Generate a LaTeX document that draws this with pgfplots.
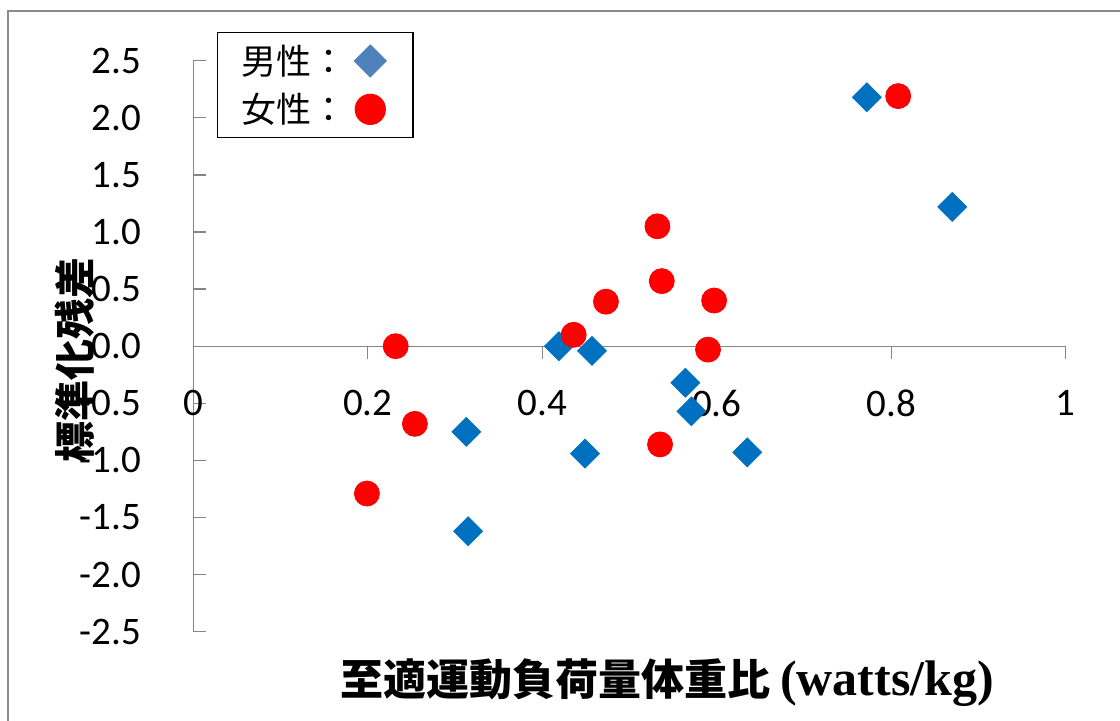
\documentclass[border=0pt]{standalone}
\usepackage{fontspec}
\setmainfont{Carlito}
\newfontfamily\jp{Noto Sans CJK JP}
\newfontfamily\lser{Liberation Serif}
\usepackage{pgfplots}
\pgfplotsset{compat=1.18}
\definecolor{male}{HTML}{0070C0}
\definecolor{malelegend}{HTML}{4F81BD}
\definecolor{axisgray}{HTML}{868686}
\definecolor{framegray}{HTML}{8C8C8C}

\begin{document}
\begin{tikzpicture}
\begin{scope}[x=0.5pt,y=0.5pt]
  \useasboundingbox (0,0) rectangle (1120,720);
  \draw[framegray, line width=1.3pt] (8,-10) -- (8,709) -- (1130,709);
\end{scope}
\begin{axis}[
  at={(96.65pt,44.15pt)}, anchor=south west,
  scale only axis, width=436.2pt, height=285.5pt,
  xmin=0, xmax=1, ymin=-2.5, ymax=2.5,
  axis lines=middle,
  axis line style={axisgray, line width=0.65pt, -},
  hide obscured x ticks=false, hide obscured y ticks=false,
  xtick={0,0.2,0.4,0.6,0.8,1},
  xticklabels={0,0.2,0.4,0.6,0.8,1},
  ytick={-2.5,-2,-1.5,-1,-0.5,0,0.5,1,1.5,2,2.5},
  yticklabel style={/pgf/number format/fixed, /pgf/number format/fixed zerofill,
    /pgf/number format/precision=1},
  tick align=inside,
  major tick length=6.5pt,
  major x tick style={axisgray, line width=0.65pt, yshift=-6.5pt},
  major y tick style={axisgray, line width=0.65pt},
  /pgf/number format/assume math mode=true,
  ticklabel style={font=\fontsize{19.5}{23}\selectfont, inner sep=0pt},
  xticklabel style={anchor=center, yshift=-28.5pt},
  yticklabel style={anchor=east, xshift=-26pt},
  legend plot pos=right,
  legend cell align=left,
  legend image code/.code={%
    \path (0cm,0cm) (0.6cm+2.5pt,0cm);
    \draw[mark repeat=2,mark phase=2,#1] plot coordinates {(0cm,0cm) (0.3cm,0cm) (0.6cm,0cm)};},
  legend style={at={(axis description cs:0.0272,1.050)}, anchor=north west,
    draw=black, line width=0.6pt, font=\jp\fontsize{17.5}{21}\selectfont,
    inner xsep=10pt, inner ysep=4pt, row sep=4pt, column sep=1pt},
  clip=false,
]
% 男性
\addplot[only marks, mark=square*, mark size=5.1pt, mark options={rotate=45}, color=male, forget plot]
coordinates {
  (0.772,2.18) (0.870,1.22) (0.419,0.00) (0.457,-0.04) (0.564,-0.32)
  (0.571,-0.57) (0.449,-0.94) (0.635,-0.93) (0.313,-0.75) (0.315,-1.62)
};
% 女性
\addplot[only marks, mark=*, mark size=6.25pt, color=red, forget plot]
coordinates {
  (0.808,2.19) (0.532,1.05) (0.537,0.57) (0.473,0.39) (0.597,0.40)
  (0.436,0.10) (0.590,-0.03) (0.232,0.00) (0.254,-0.68) (0.535,-0.86)
  (0.199,-1.29)
};
\addlegendimage{only marks, mark=square*, mark size=5.6pt, mark options={rotate=45}, color=malelegend}
\addlegendentry{男性：}
\addlegendimage{only marks, mark=*, mark size=7.5pt, color=red}
\addlegendentry{女性：}
\node[rotate=90, font=\jp\bfseries\fontsize{20.5}{24}\selectfont]
  at (axis description cs:-0.1356,0.476) {標準化残差};
\node[font=\fontsize{21.5}{26}\selectfont]
  at (axis description cs:0.543,-0.0898)
  {{\jp\bfseries 至適運動負荷量体重比}\hspace{5pt}{\lser\bfseries\fontsize{25}{30}\selectfont (watts/kg)}};
\end{axis}
\end{tikzpicture}
\end{document}
